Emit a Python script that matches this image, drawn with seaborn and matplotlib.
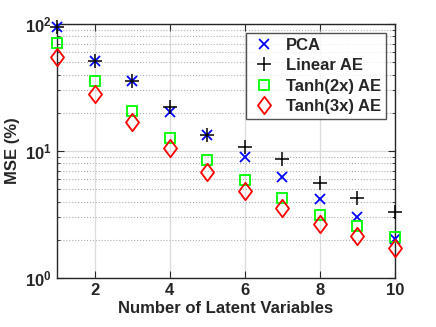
import matplotlib
matplotlib.use("Agg")
import matplotlib.pyplot as plt
import seaborn as sns
import numpy as np
import pandas as pd
from matplotlib.path import Path
from matplotlib.ticker import LogLocator, NullFormatter, FixedLocator

latent = [1, 2, 3, 4, 5, 6, 7, 8, 9, 10]
pca = [94.2, 51.1, 35.6, 20.3, 13.4, 9.0, 6.2, 4.16, 3.0, 2.03]
linear_ae = [94.2, 51.1, 35.6, 22.1, 13.4, 10.8, 8.6, 5.57, 4.24, 3.29]
tanh2 = [70.5, 35.6, 20.6, 12.6, 8.5, 5.9, 4.3, 3.13, 2.57, 2.09]
tanh3 = [54.7, 27.9, 17.0, 10.5, 6.8, 4.84, 3.54, 2.68, 2.15, 1.73]
x_ticks = [2, 4, 6, 8, 10]
series_names = ["PCA", "Linear AE", "Tanh(2x) AE", "Tanh(3x) AE"]

sns.set_style("white")
plt.rcParams["font.family"] = ["Liberation Sans", "DejaVu Sans"]
plt.rcParams["font.weight"] = "bold"

diamond = Path([(0, 1), (0.75, 0), (0, -1), (-0.75, 0), (0, 1)],
               [Path.MOVETO, Path.LINETO, Path.LINETO, Path.LINETO, Path.CLOSEPOLY])

fig = plt.figure(figsize=(4.36, 3.27), dpi=100)
ax = fig.add_axes([57/436, 1-278/327, (395-57)/436, (278-24)/327])

styles = [
    dict(marker="x", color="#0000ff", mec="#0000ff", markersize=7, mew=1.3),
    dict(marker="+", color="#000000", mec="#000000", markersize=9.5, mew=1.1),
    dict(marker="s", color="#00ff00", mec="#00ff00", markersize=6.5, mew=1.3, mfc="none"),
    dict(marker=diamond, color="#ff0000", mec="#ff0000", markersize=12.5, mew=1.3, mfc="none"),
]
data = [pca, linear_ae, tanh2, tanh3]
for name, vals, st in zip(series_names, data, styles):
    sns.lineplot(x=latent, y=vals, ax=ax, linestyle="none", label=name, clip_on=False, zorder=5, **st)

ax.set_yscale("log")
ax.set_xlim(1, 10)
ax.set_ylim(1, 100)
ax.xaxis.set_major_locator(FixedLocator(x_ticks))
ax.yaxis.set_major_locator(LogLocator(base=10, numticks=5))
ax.yaxis.set_minor_locator(LogLocator(base=10, subs=np.arange(2, 10), numticks=20))
ax.yaxis.set_minor_formatter(NullFormatter())

ax.grid(True, which="major", axis="both", color="#dcdcdc", linewidth=0.9, linestyle="-")
ax.grid(True, which="minor", axis="y", color="#b0b0b0", linewidth=0.8, linestyle=":")
ax.set_axisbelow(True)

ax.tick_params(which="both", direction="in", top=True, right=True, bottom=True, left=True,
               labelsize=12, color="#262626", labelcolor="#262626")
ax.tick_params(which="major", length=5)
ax.tick_params(which="minor", length=2.5)
for lab in ax.get_xticklabels() + ax.get_yticklabels():
    lab.set_fontweight("bold")
for sp in ax.spines.values():
    sp.set_color("#262626")
    sp.set_linewidth(1.0)
    sp.set_visible(True)

ax.set_xlabel("Number of Latent Variables", fontsize=12, fontweight="bold", color="#262626", labelpad=2)
ax.set_ylabel("MSE (%)", fontsize=12, fontweight="bold", color="#262626", labelpad=4)

leg = ax.legend(loc="upper right", fontsize=12, frameon=True, fancybox=False,
                edgecolor="#262626", borderpad=0.3, handlelength=1.6, handletextpad=0.5,
                labelspacing=0.32, bbox_to_anchor=(0.973, 0.965), borderaxespad=0.0)
leg.get_frame().set_linewidth(1.0)
leg.set_zorder(10)
for t in leg.get_texts():
    t.set_fontweight("bold")

fig.savefig("out.png", dpi=100)
